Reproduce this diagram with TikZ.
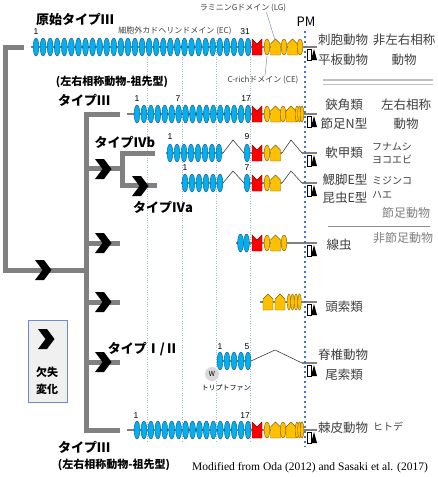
\documentclass[tikz,border=0pt]{standalone}
\usepackage{fontspec}
\setmainfont{Noto Sans CJK JP}
\newfontfamily\numfont{Liberation Sans}
\newfontfamily\capfont{Liberation Serif}
\definecolor{ecblue}{HTML}{00B0F0}
\definecolor{ecedge}{HTML}{1F4E79}
\definecolor{lgyel}{HTML}{FFC000}
\definecolor{lgedge}{HTML}{7F6000}
\definecolor{treegray}{HTML}{808080}
\definecolor{pmblue}{HTML}{4472C4}
\definecolor{guideblue}{HTML}{9DB5E0}
\definecolor{txtgray}{HTML}{404040}
\definecolor{lightgray2}{HTML}{808080}
\tikzset{
  ecst/.style={fill=ecblue, draw=ecedge, line width=0.4},
  yelst/.style={fill=lgyel, draw=lgedge, line width=0.4},
  redst/.style={fill=red, draw=red!50!black, line width=0.4},
  protline/.style={draw=treegray, line width=2.2},
  thinzig/.style={draw=black!75, line width=0.6},
  treeline/.style={draw=treegray, line width=5},
  guide/.style={draw=guideblue, line width=0.5, dash pattern=on 0.8pt off 1.6pt},
  lbl/.style={font=\fontsize{12.5}{14}\selectfont, text=txtgray, inner sep=0},
  sublbl/.style={font=\fontsize{10}{11}\selectfont, text=txtgray, inner sep=0},
  grplbl/.style={font=\fontsize{12}{14}\selectfont, text=lightgray2, inner sep=0},
  typelbl/.style={font=\bfseries\fontsize{13}{15}\selectfont, text=black, inner sep=0},
  anclbl/.style={font=\bfseries\fontsize{11}{13}\selectfont, text=black, inner sep=0},
  numlbl/.style={font=\numfont\fontsize{8.5}{9}\selectfont, text=black, inner sep=0},
  domlbl/.style={font=\fontsize{8}{9}\selectfont, text=txtgray, inner sep=0},
}
\newcommand\ECrow[4]{\foreach \k in {1,...,#2}{\filldraw[ecst] ({#1+(\k-1)*#3},#4) ellipse [x radius=2.9, y radius=9];}}
\newcommand\ECone[2]{\filldraw[ecst] (#1,#2) ellipse [x radius=2.9, y radius=9];}
\newcommand\RedD[2]{\filldraw[redst] (#1,#2-8) -- (#1+5,#2-3) -- (#1+10,#2-8) -- (#1+10,#2+8) -- (#1,#2+8) -- cycle;}
\newcommand\YelE[2]{\filldraw[yelst] (#1,#2) ellipse [x radius=2.8, y radius=8];}
\newcommand\YelT[2]{\filldraw[yelst] (#1,#2) ellipse [x radius=1.8, y radius=8];}
\newcommand\YelP[2]{\filldraw[yelst] (#1,#2+8) -- (#1,#2-3) -- (#1+5,#2-8) -- (#1+10,#2-3) -- (#1+10,#2+8) -- cycle;}
\newcommand\TMico[1]{\filldraw[fill=white, draw=black, line width=0.4] (307.5,#1+2) rectangle (311,#1+13);
  \fill[black] (311,#1+13) -- (317,#1+13) -- (314,#1+2) -- cycle;}
\newcommand\chev[2]{\fill[black] (#1-8,#2-10) -- (#1+1,#2-10) -- (#1+8.5,#2) -- (#1+1,#2+10) -- (#1-8,#2+10) -- (#1-0.5,#2) -- cycle;}
\begin{document}
\begin{tikzpicture}[x=1pt, y=-1pt]
\useasboundingbox (0,0) rectangle (437,477);
\fill[white] (0,0) rectangle (437,477);

% guide dotted lines
\foreach \gx in {147,182,216,250} { \draw[guide] (\gx,40) -- (\gx,442); }

% tree
\draw[treeline] (24,47) -- (5,47) -- (5,270) -- (86,270);
\draw[treeline] (120,114) -- (86,114) -- (86,430) -- (120,430);
\draw[treeline] (86,168) -- (122,168);
\draw[treeline] (155,153) -- (122,153) -- (122,185) -- (157,185);
\draw[treeline] (86,243) -- (120,243);
\draw[treeline] (86,302) -- (120,302);
\draw[treeline] (86,362) -- (120,362);
\chev{43}{270}
\chev{103}{169}
\chev{140}{186}
\chev{103}{243}
\chev{103}{302}
\chev{103}{362}

% legend box
\filldraw[fill=black!6, draw=pmblue!80, line width=0.6] (28,320) rectangle (67,402);
\chev{46}{339}
\node[anclbl] (lgA) at (47,372) {欠失};
\node[anclbl] (lgB) at (47,389) {変化};

% backbones
\draw[protline] (31,47) -- (317,47);
\draw[protline] (127,114) -- (317,114);
\draw[protline] (166,153) -- (223,153);
\draw[protline] (244,153) -- (282,153);
\draw[protline] (302,153) -- (317,153);
\draw[thinzig] (223,153) -- (233,140) -- (244,153);
\draw[thinzig] (282,153) -- (291,140) -- (302,153);
\draw[protline] (181,183) -- (223,183);
\draw[protline] (244,183) -- (282,183);
\draw[protline] (302,183) -- (317,183);
\draw[thinzig] (223,183) -- (233,171) -- (244,183);
\draw[thinzig] (282,183) -- (291,171) -- (302,183);
\draw[protline] (236,243) -- (317,243);
\draw[protline] (260,302) -- (317,302);
\draw[protline] (217,361) -- (251,361);
\draw[thinzig] (251,361) -- (275,350) -- (302,363);
\draw[protline] (302,363) -- (317,363);
\draw[protline] (127,430) -- (317,430);

% row 1
\ECrow{36}{31}{7.07}{47}
\RedD{252}{47}
\YelE{267}{47}\YelP{270.5}{47}\YelE{284}{47}\YelP{287.5}{47}\YelE{300}{47}
% row 2
\ECrow{137}{17}{6.94}{114}
\RedD{252}{114}
\YelE{267}{114}\YelP{270.5}{114}\YelE{283}{114}\YelP{286}{114}\YelT{297}{114}\YelT{299.5}{114}\YelT{302}{114}
% row 3
\ECrow{170}{8}{7}{153}
\ECone{247}{153}
\RedD{252}{153}
\YelE{267}{153}\YelP{270.5}{153}
% row 4
\ECrow{185}{6}{7}{183}
\ECone{247}{183}
\RedD{252}{183}
\YelE{267}{183}\YelP{270.5}{183}
% row 5
\ECrow{240.5}{2}{6}{243}
\RedD{252}{243}
\YelE{267}{243}\YelP{270.5}{243}\YelE{284}{243}
% row 6
\YelP{263}{302}\YelP{275}{302}\YelT{289}{302}\YelT{292.5}{302}\YelT{296}{302}\YelT{299.5}{302}
% row 7
\ECrow{220}{5}{7}{361}
% row 8
\ECrow{137}{17}{6.94}{430}
\RedD{252}{430}
\YelE{267}{430}\YelP{270.5}{430}\YelE{283}{430}\YelP{286}{430}\YelT{297}{430}\YelT{299.5}{430}\YelT{302}{430}

% PM
\draw[draw=pmblue, line width=2.4, dash pattern=on 2.4pt off 2.6pt] (305,31) -- (305,447);
\node[font=\fontsize{13}{15}\selectfont, inner sep=0] (pm) at (306,22) {PM};

% TM icons
\TMico{47}\TMico{114}\TMico{153}\TMico{183}\TMico{243}\TMico{302}\TMico{363}\TMico{430}

% tryptophan
\fill[black!15] (212,374) circle [radius=7];
\node[font=\fontsize{7}{8}\selectfont, inner sep=0] (wres) at (212,374) {W};
\node[font=\fontsize{7}{8}\selectfont, inner sep=0] (trp) at (226,388) {トリプトファン};

% domain labels
\node[domlbl] (ecl) at (175,31) {細胞外カドヘリンドメイン (EC)};
\node[domlbl] (lgl) at (243,8) {ラミニンGドメイン (LG)};
\node[domlbl] (cel) at (263,80) {C-richドメイン (CE)};
\coordinate (lgtip) at (275,40);
\coordinate (cetip) at (267,56);
\draw[draw=guideblue!80!black, line width=0.5] (lgl.south east) ++(-20,0) -- (lgtip);
\draw[draw=guideblue!80!black, line width=0.5] (cel.north) ++(2,0) -- (cetip);

% numbers
\node[numlbl] (n1a) at (36,32) {1};
\node[numlbl] (n1b) at (245,32) {31};
\node[numlbl] (n2a) at (137,99) {1};
\node[numlbl] (n2b) at (178,99) {7};
\node[numlbl] (n2c) at (246,99) {17};
\node[numlbl] (n3a) at (170,137) {1};
\node[numlbl] (n3b) at (247,137) {9};
\node[numlbl] (n4a) at (185,168) {1};
\node[numlbl] (n4b) at (247,168) {7};
\node[numlbl] (n7a) at (220,347) {1};
\node[numlbl] (n7b) at (247,347) {5};
\node[numlbl] (n8a) at (136,416) {1};
\node[numlbl] (n8b) at (245,416) {17};

% left type labels
\node[typelbl] (t0) at (75,20) {原始タイプⅢ};
\node[anclbl] (t1a) at (112,82) {(左右相称動物-祖先型)};
\node[typelbl] (t1) at (84,100) {タイプⅢ};
\node[typelbl] (t2) at (125,142) {タイプⅣb};
\node[typelbl] (t3) at (163,207) {タイプⅣa};
\node[typelbl] (t4) at (143,349) {タイプⅠ/Ⅱ};
\node[typelbl] (t5) at (84,447) {タイプⅢ};
\node[anclbl] (t5a) at (114,465) {(左右相称動物-祖先型)};

% right labels
\node[lbl] (r1a) at (343,40) {刺胞動物};
\node[lbl] (r1b) at (343,60) {平板動物};
\node[lbl] (r1c) at (404,40) {非左右相称};
\node[lbl] (r1d) at (404,60) {動物};
\draw[draw=black!25, line width=1.3] (323,80) -- (433,80);
\draw[draw=black!25, line width=1.3] (323,84.5) -- (433,84.5);
\node[lbl] (r2a) at (344,105) {鋏角類};
\node[lbl] (r2b) at (344,124) {節足N型};
\node[lbl] (r2c) at (406,105) {左右相称};
\node[lbl] (r2d) at (406,124) {動物};
\node[lbl] (r3a) at (344,153) {軟甲類};
\node[sublbl] (r3b) at (392,147) {フナムシ};
\node[sublbl] (r3c) at (392,160) {ヨコエビ};
\node[lbl] (r4a) at (345,180) {鰓脚E型};
\node[sublbl] (r4b) at (392,181) {ミジンコ};
\node[lbl] (r4c) at (345,198) {昆虫E型};
\node[sublbl] (r4d) at (382,195) {ハエ};
\node[grplbl] (g1) at (406,213) {節足動物};
\draw[draw=black!45, line width=0.6] (328,226) -- (430,226);
\node[grplbl] (g2) at (403,238) {非節足動物};
\node[lbl] (r5) at (339,245) {線虫};
\node[lbl] (r6) at (344,307) {頭索類};
\node[lbl] (r7a) at (343,355) {脊椎動物};
\node[lbl] (r7b) at (344,375) {尾索類};
\node[lbl] (r8a) at (343,428) {棘皮動物};
\node[sublbl] (r8b) at (388,427) {ヒトデ};

% caption
\node[font=\capfont\fontsize{11.5}{13}\selectfont, inner sep=0] (cap) at (310,468) {Modified from Oda (2012) and Sasaki et al. (2017)};
\end{tikzpicture}
\end{document}
